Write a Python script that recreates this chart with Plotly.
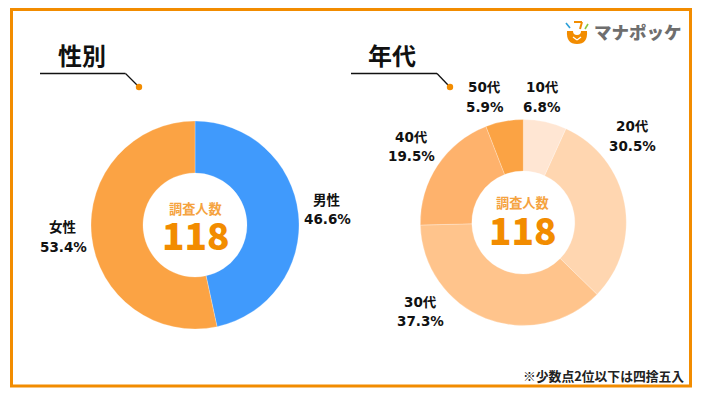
import plotly.graph_objects as go

W, H = 702, 395
ORANGE = "#F28C00"
FONT = "DejaVu Sans, Noto Sans CJK JP"
JP = "Noto Sans CJK JP"

gender_labels = ["男性", "女性"]
gender_values = [46.6, 53.4]
gender_colors = ["#409AFC", "#FBA344"]
age_labels = ["10代", "20代", "30代", "40代", "50代"]
age_values = [6.8, 30.5, 37.3, 19.5, 5.9]
age_colors = ["#FFE6D3", "#FFD6B0", "#FFC48C", "#FEB26C", "#FBA344"]
respondents = 118

def px(x): return x / W
def py(y): return 1 - y / H

def pie(labels, values, colors, cx, cy, r):
    return go.Pie(labels=labels, values=values, hole=0.5, sort=False, direction="clockwise",
                  rotation=0, textinfo="none", hoverinfo="label+percent", showlegend=False,
                  marker=dict(colors=colors, line=dict(color="rgba(255,255,255,0.5)", width=0.5)),
                  domain=dict(x=[px(cx - r), px(cx + r)], y=[py(cy + r), py(cy - r)]))

fig = go.Figure([
    pie(gender_labels, gender_values, gender_colors, 195, 225, 104),
    pie(age_labels, age_values, age_colors, 523.3, 222.5, 103),
])

ann = []
def text(x, y, s, size, color="#111111", family=FONT, weight=700):
    ann.append(dict(x=px(x), y=py(y), xref="paper", yref="paper", showarrow=False,
                    text=s, xanchor="center", yanchor="middle",
                    align="center", font=dict(size=size, color=color, family=family, weight=weight)))

def pair(x, y, label, value):
    text(x, y - 9.5, label, 13.5)
    text(x, y + 10, f"{value}%", 13.5)

for (x, y), l, v in zip([(327, 209), (63, 237)], gender_labels, gender_values):
    pair(x, y, l, v)
for (x, y), l, v in zip([(542, 97), (632, 136), (420, 311), (411, 146), (485, 97)], age_labels, age_values):
    pair(x, y, l, v)

for cx, y1, y2 in [(195.5, 208, 234), (522.5, 202.5, 229)]:
    text(cx, y1, "調査人数", 13.2, "#F5A340", JP)
    text(cx + 0.5, y2, str(respondents), 37, ORANGE, JP, 900)

text(82, 54.5, "性別", 24, "#111111", JP)
text(392, 54.5, "年代", 24, "#111111", JP)
text(603.5, 375, "※少数点2位以下は四捨五入", 12.8, "#222222", JP)
text(638, 32, "マナポッケ", 17.5, "#6E6E6E", JP, 900)

def line(x0, y0, x1, y1, color="#111111", width=1.3):
    return dict(type="line", xref="paper", yref="paper", x0=px(x0), y0=py(y0), x1=px(x1), y1=py(y1),
                line=dict(color=color, width=width))
def circle(cx, cy, r, color):
    return dict(type="circle", xref="paper", yref="paper", x0=px(cx-r), x1=px(cx+r), y0=py(cy+r), y1=py(cy-r),
                fillcolor=color, line=dict(width=0))

shapes = [
    dict(type="rect", xref="paper", yref="paper", x0=px(11.5), x1=px(690.5), y0=py(386), y1=py(9.5),
         line=dict(color=ORANGE, width=3), fillcolor="rgba(0,0,0,0)"),
    line(40, 73.5, 125.5, 73.5), line(125.5, 73.5, 137, 85), circle(139, 87, 3.2, ORANGE),
    line(351, 73.5, 437, 73.5), line(437, 73.5, 448, 85), circle(450, 87, 3.2, ORANGE),
    # logo: bowl, face, chopstick mark and sparks
    dict(type="path", xref="paper", yref="paper",
         path=f"M {px(567)} {py(31)} L {px(587)} {py(31)} Q {px(588)} {py(44)} {px(577)} {py(44)} Q {px(566)} {py(44)} {px(567)} {py(31)} Z",
         fillcolor="#F28C00", line=dict(width=0)),
    circle(577, 31, 4, "#FFFFFF"),
    line(573, 37, 577, 40, "#FFFFFF", 1.2), line(577, 40, 581, 37, "#FFFFFF", 1.2),
    line(574, 22, 582, 22, ORANGE, 2), line(582, 22, 580, 29, ORANGE, 2),
    line(566, 23, 570, 28, "#2A9FD8", 1.6), line(588, 24, 585, 29, "#8CC63F", 1.6),
]

fig.update_layout(width=W, height=H, margin=dict(l=0, r=0, t=0, b=0), paper_bgcolor="white",
                  annotations=ann, shapes=shapes, font=dict(family=FONT))
fig.write_html("out.html", config=dict(displayModeBar=False),
               post_script="document.body.style.margin='0';document.body.style.overflow='hidden';")
